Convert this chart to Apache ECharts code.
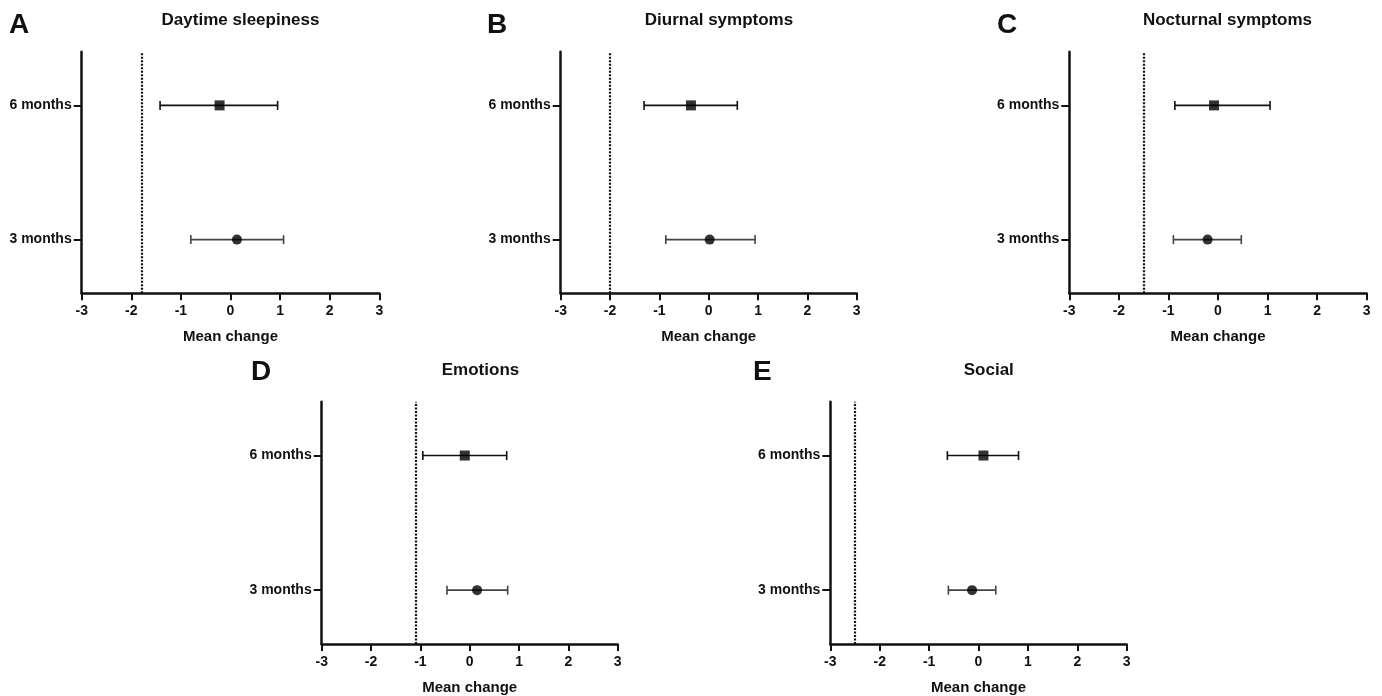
<!DOCTYPE html>
<html>
<head>
<meta charset="utf-8">
<script src="https://cdn.jsdelivr.net/npm/echarts@6/dist/echarts.min.js"></script>
<style>
html,body{margin:0;padding:0;background:#fff;}
#chart{width:1382px;height:696px;}
</style>
</head>
<body>
<div id="chart"></div>
<script>
// ---- data ----
const panelLetters = ['A', 'B', 'C', 'D', 'E'];
const panelTitles = ['Daytime sleepiness', 'Diurnal symptoms', 'Nocturnal symptoms', 'Emotions', 'Social'];
const timeLabels = ['3 months', '6 months'];
const xTicks = [-3, -2, -1, 0, 1, 2, 3];
const xAxisTitle = 'Mean change';
// 6 months: mean and confidence interval
const mean6 = [-0.22, -0.36, -0.08, -0.10, 0.10];
const low6  = [-1.42, -1.31, -0.87, -0.95, -0.63];
const high6 = [0.95, 0.58, 1.05, 0.75, 0.81];
// 3 months
const mean3 = [0.13, 0.02, -0.21, 0.15, -0.13];
const low3  = [-0.80, -0.87, -0.90, -0.46, -0.61];
const high3 = [1.07, 0.94, 0.47, 0.77, 0.35];
// reference (dotted) line
const refLine = [-1.78, -2.0, -1.5, -1.1, -2.5];

// ---- layout ----
const grids = [
  {left: 81.7, top: 51.7, width: 297.6, height: 241.6},
  {left: 560.7, top: 51.7, width: 296, height: 241.6},
  {left: 1069.3, top: 51.7, width: 297.4, height: 241.6},
  {left: 321.7, top: 401.7, width: 296, height: 242.6},
  {left: 830.3, top: 401.7, width: 296.4, height: 242.6}
];
const letterPos = [[9, 25], [487, 25], [997, 25], [251, 372], [753, 372]];
const titlePos = [[240.5, 20], [719, 20], [1227.5, 20], [480.5, 370], [988.8, 370]];

const FONT = '"Liberation Sans", Arial, sans-serif';
const chart = echarts.init(document.getElementById('chart'));

const xAxes = [], yAxes = [], series = [], graphics = [];
grids.forEach((g, i) => {
  xAxes.push({
    gridIndex: i, type: 'value', min: xTicks[0], max: xTicks[xTicks.length - 1], interval: 1,
    name: xAxisTitle, nameLocation: 'middle', nameGap: 36,
    nameTextStyle: {fontFamily: FONT, fontWeight: 'bold', fontSize: 15, color: '#111'},
    axisLine: {show: true, onZero: false, lineStyle: {color: '#111', width: 2.5}},
    axisTick: {show: true, inside: false, length: 7, lineStyle: {color: '#111', width: 2}},
    axisLabel: {fontFamily: FONT, fontWeight: 'bold', fontSize: 14, color: '#111', margin: 11},
    splitLine: {show: false}
  });
  yAxes.push({
    gridIndex: i, type: 'value', min: 0.6, max: 2.4,
    axisLine: {show: true, onZero: false, lineStyle: {color: '#111', width: 2.5}},
    axisTick: {show: true, inside: false, length: 8, customValues: [1, 2], lineStyle: {color: '#111', width: 2}},
    axisLabel: {fontFamily: FONT, fontWeight: 'bold', fontSize: 14, color: '#111', margin: 10,
      customValues: [1, 2], formatter: v => timeLabels[Math.round(v) - 1]},
    splitLine: {show: false}
  });
  series.push({
    type: 'custom', xAxisIndex: i, yAxisIndex: i, silent: true, z: 2,
    data: [[low3[i], high3[i], 1], [low6[i], high6[i], 2]],
    renderItem: (params, api) => {
      const y = api.value(2);
      const p1 = api.coord([api.value(0), y]);
      const p2 = api.coord([api.value(1), y]);
      const col = y === 1 ? '#444' : '#111';
      const st = {stroke: col, lineWidth: 1.6};
      return {type: 'group', children: [
        {type: 'line', shape: {x1: p1[0], y1: p1[1], x2: p2[0], y2: p2[1]}, style: st},
        {type: 'line', shape: {x1: p1[0], y1: p1[1] - 4.5, x2: p1[0], y2: p1[1] + 4.5}, style: st},
        {type: 'line', shape: {x1: p2[0], y1: p2[1] - 4.5, x2: p2[0], y2: p2[1] + 4.5}, style: st}
      ]};
    }
  });
  series.push({
    type: 'scatter', xAxisIndex: i, yAxisIndex: i, silent: true, z: 3,
    symbol: 'rect', symbolSize: 10, itemStyle: {color: '#000'},
    data: [[mean6[i], 2]],
    markLine: {
      silent: true, symbol: 'none', label: {show: false},
      lineStyle: {type: [2, 1.5], color: '#111', width: 2.2},
      data: [{xAxis: refLine[i]}]
    }
  });
  series.push({
    type: 'scatter', xAxisIndex: i, yAxisIndex: i, silent: true, z: 3,
    symbol: 'circle', symbolSize: 10, itemStyle: {color: '#000'},
    data: [[mean3[i], 1]]
  });
  graphics.push({
    type: 'text', x: letterPos[i][0], y: letterPos[i][1],
    style: {text: panelLetters[i], font: 'bold 28px ' + FONT, fill: '#111', textVerticalAlign: 'middle'}
  });
  graphics.push({
    type: 'text', x: titlePos[i][0], y: titlePos[i][1],
    style: {text: panelTitles[i], font: 'bold 17px ' + FONT, fill: '#111', textAlign: 'center', textVerticalAlign: 'middle'}
  });
});

chart.setOption({
  backgroundColor: '#fff',
  animation: false,
  grid: grids,
  xAxis: xAxes,
  yAxis: yAxes,
  series: series,
  graphic: graphics
});
</script>
</body>
</html>
